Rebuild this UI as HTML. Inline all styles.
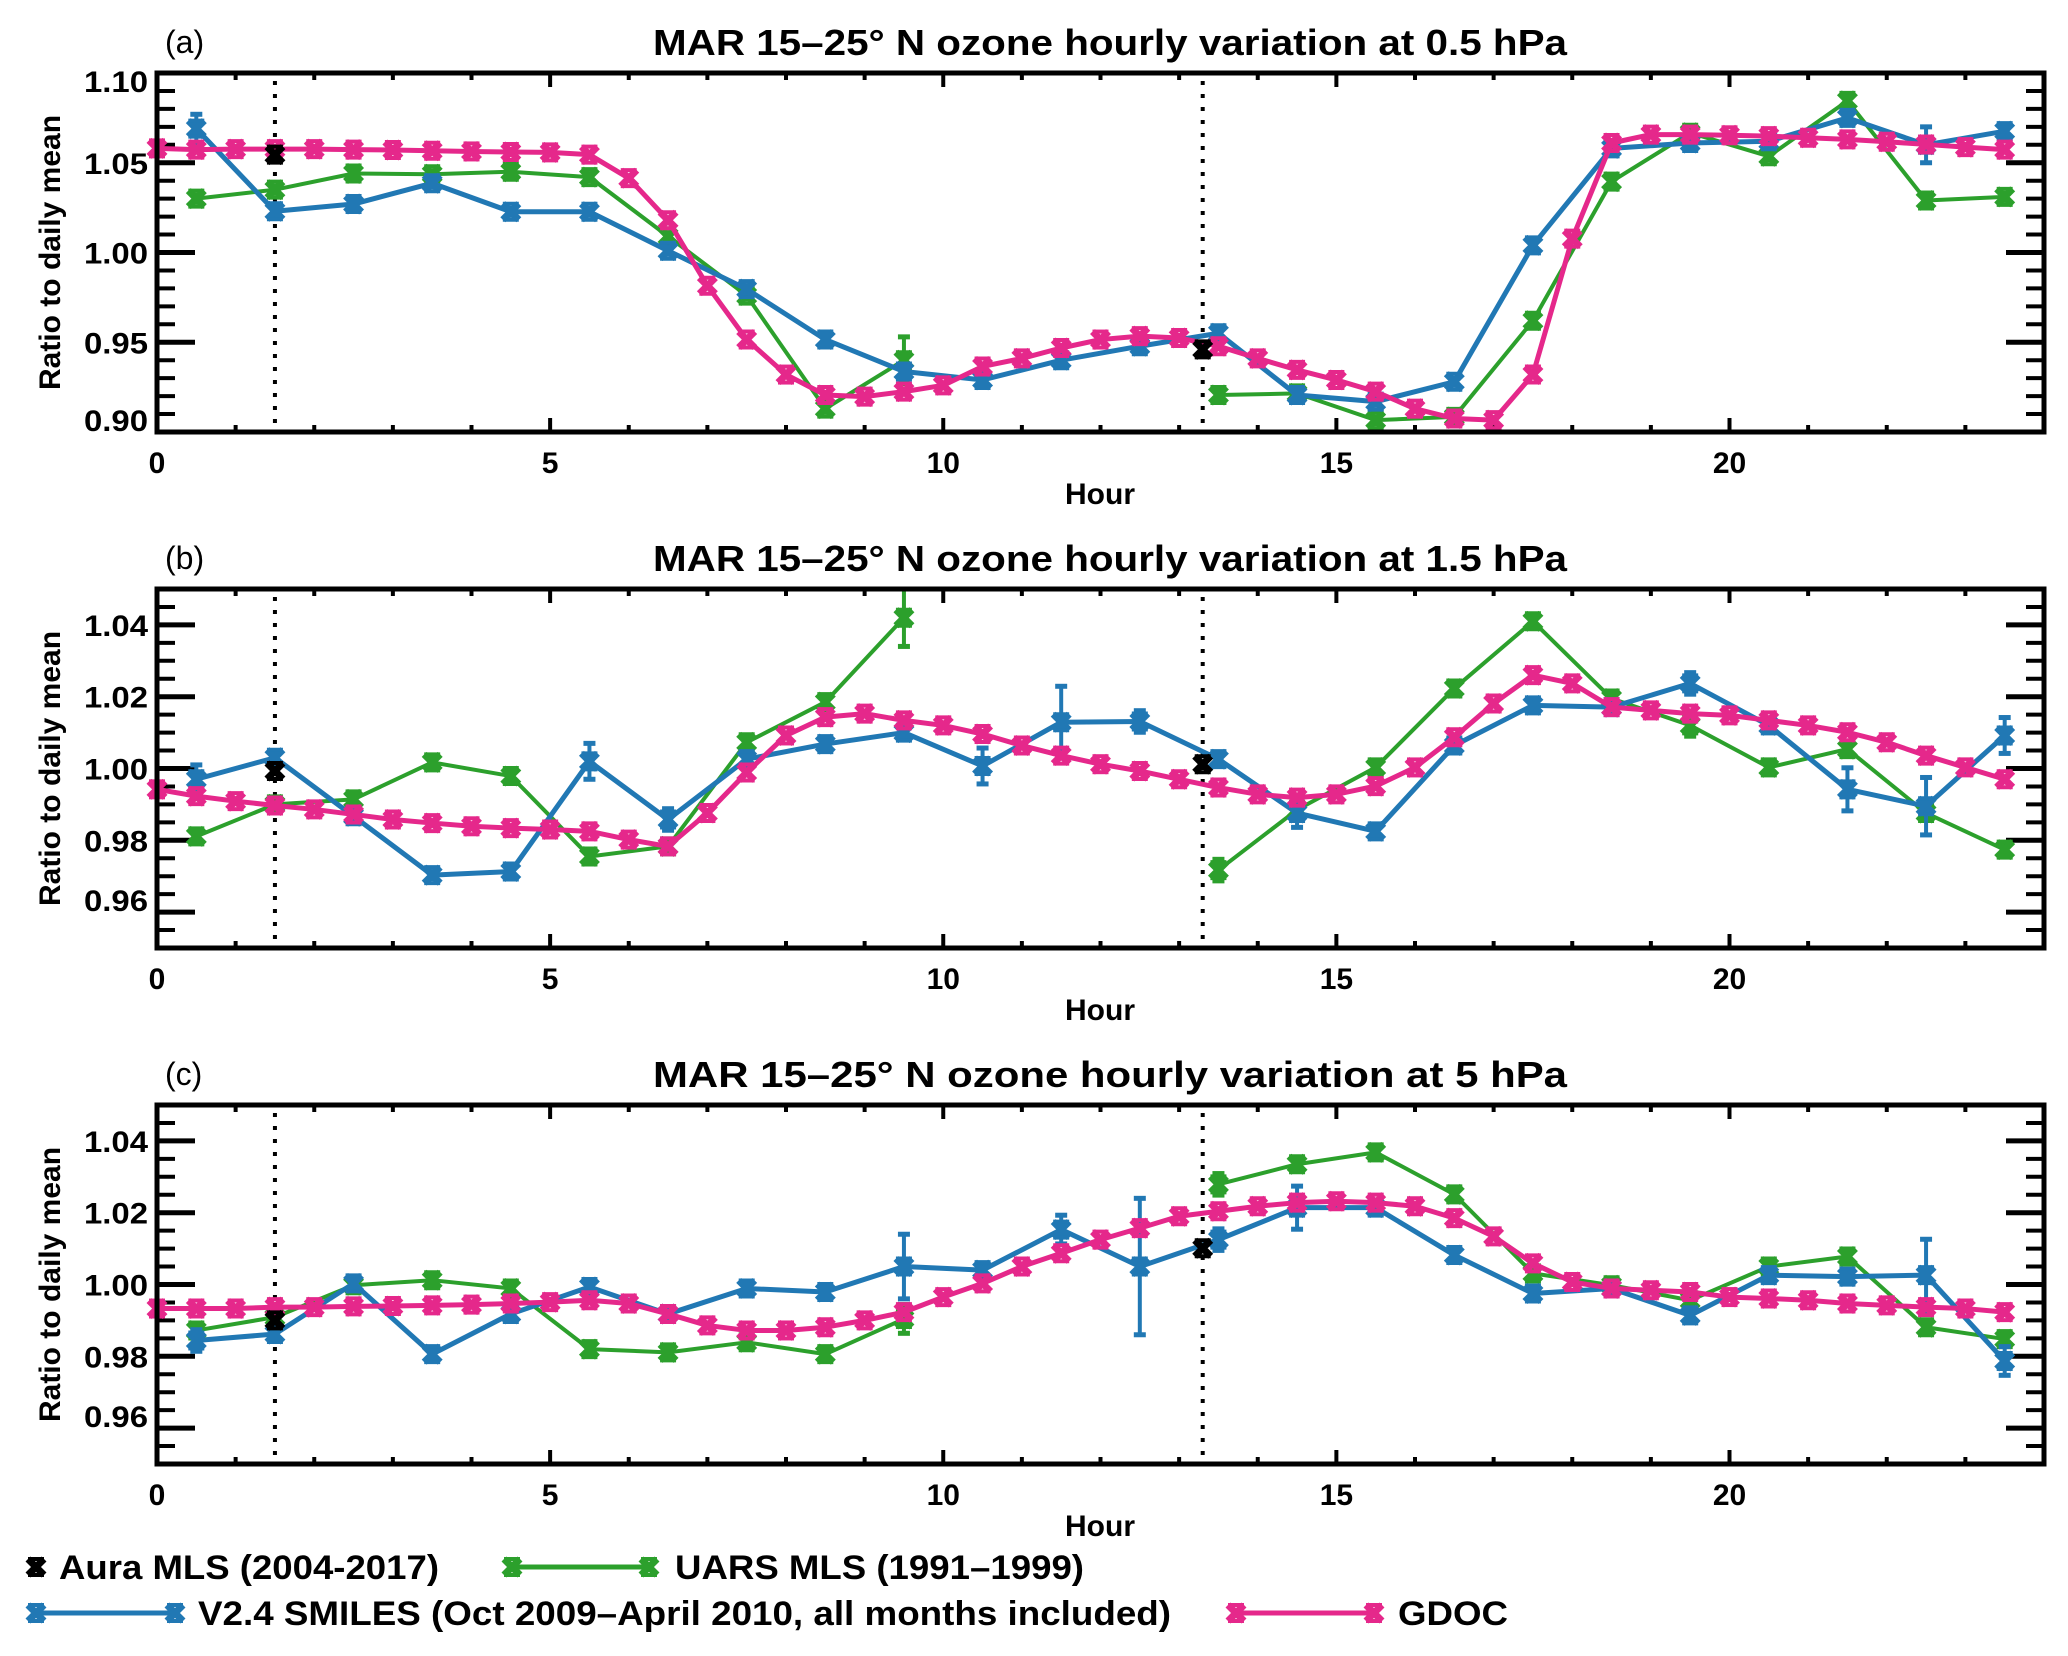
<!DOCTYPE html>
<html><head><meta charset="utf-8"><style>
body{margin:0;background:#fff}
svg{display:block}
text{font-family:"Liberation Sans",Arial,sans-serif;fill:#000}
</style></head><body>
<svg id="chart" xmlns="http://www.w3.org/2000/svg" width="2068" height="1656" viewBox="0 0 2068 1656"></svg>
<script>
// ---- data ----
const hoursHalf = [0.5,1.5,2.5,3.5,4.5,5.5,6.5,7.5,8.5,9.5,10.5,11.5,12.5,13.5,14.5,15.5,16.5,17.5,18.5,19.5,20.5,21.5,22.5,23.5];
const hoursGdoc = [0,0.5,1,1.5,2,2.5,3,3.5,4,4.5,5,5.5,6,6.5,7,7.5,8,8.5,9,9.5,10,10.5,11,11.5,12,12.5,13,13.5,14,14.5,15,15.5,16,16.5,17,17.5,18,18.5,19,19.5,20,20.5,21,21.5,22,22.5,23,23.5];
const auraHours = [1.5,13.3];
const panelTitles = ["MAR 15–25° N ozone hourly variation at 0.5 hPa","MAR 15–25° N ozone hourly variation at 1.5 hPa","MAR 15–25° N ozone hourly variation at 5 hPa"];
const panelLetters = ["(a)","(b)","(c)"];
const xTicks = [0,5,10,15,20];
const yTicksA = ["0.90","0.95","1.00","1.05","1.10"];
const yTicksB = ["0.96","0.98","1.00","1.02","1.04"];
const yTicksC = ["0.96","0.98","1.00","1.02","1.04"];

const smilesA = [1.069,1.023,1.027,1.0386,1.0227,1.0227,1.001,0.9796,0.9515,0.9337,0.929,0.940,0.9478,0.955,0.9206,0.9169,0.928,1.004,1.058,1.061,1.062,1.075,1.060,1.0676];
const smilesErrA = [0.008,0.003,0.002,0.002,0.002,0.002,0.002,0.002,0.002,0.004,0.003,0.003,0.003,0.004,0.003,0.002,0.002,0.003,0.002,0.002,0.002,0.003,0.010,0.003];
const uarsA = [1.030,1.035,1.044,1.0436,1.045,1.042,1.009,0.976,0.913,0.940,null,null,null,0.9206,0.9215,0.9066,0.9084,0.962,1.0395,1.0667,1.0536,1.0845,1.029,1.031];
const uarsErrA = [0.002,0.002,0.002,0.002,0.003,0.002,0.002,0.002,0.002,0.013,0,0,0,0.003,0.002,0.002,0.002,0.004,0.004,0.002,0.002,0.003,0.002,0.002];
const gdocA = [1.058,1.0573,1.0576,1.0576,1.0576,1.0573,1.0571,1.0567,1.0563,1.056,1.0558,1.0545,1.0414,1.018,0.9815,0.9515,0.932,0.9206,0.9197,0.9225,0.926,0.9365,0.941,0.9468,0.9515,0.9534,0.9524,0.9478,0.941,0.9346,0.929,0.9225,0.913,0.9075,0.9066,0.932,1.0077,1.061,1.0657,1.0657,1.0653,1.0648,1.0639,1.063,1.0617,1.0602,1.0587,1.0573];
const auraA = [1.0545,0.946];

const smilesB = [0.997,1.003,0.9867,0.9703,0.9713,1.002,0.9858,1.0026,1.0068,1.010,1.0007,1.0129,1.0131,1.0026,0.9876,0.9825,1.0064,1.0176,1.0171,1.0237,1.012,0.9942,0.9895,1.0092];
const smilesErrB = [0.004,0.002,0.002,0.001,0.001,0.005,0.003,0.002,0.002,0.002,0.005,0.010,0.003,0.002,0.004,0.002,0.002,0.002,0.002,0.003,0.002,0.006,0.008,0.005];
const uarsB = [0.9811,0.990,0.9914,1.0017,0.9979,0.9755,0.9783,1.0073,1.0185,1.042,null,null,null,0.9717,0.9885,1.0003,1.0223,1.041,1.0195,1.012,1.0003,1.0054,0.9876,0.9774];
const uarsErrB = [0.002,0.002,0.002,0.002,0.002,0.002,0.002,0.002,0.002,0.008,0,0,0,0.003,0.002,0.002,0.002,0.002,0.002,0.003,0.002,0.002,0.002,0.002];
const gdocB = [0.9942,0.9923,0.9909,0.9897,0.9886,0.9872,0.9858,0.9848,0.9839,0.9834,0.983,0.9825,0.9802,0.9783,0.9876,0.9989,1.0092,1.0143,1.0153,1.0134,1.012,1.0096,1.0064,1.0036,1.0012,0.9993,0.997,0.9947,0.9928,0.9919,0.9928,0.9951,1.0003,1.0087,1.0181,1.026,1.0237,1.0171,1.0162,1.0153,1.0148,1.0134,1.012,1.0101,1.0073,1.0036,1.0003,0.997];
const auraB = [0.9993,1.0012];

const smilesC = [0.9844,0.9862,1.0003,0.9806,0.9918,0.9993,0.9918,0.9989,0.9979,1.005,1.004,1.0153,1.005,1.0125,1.0214,1.0214,1.0082,0.9975,0.9989,0.9914,1.0026,1.0022,1.0026,0.9787];
const smilesErrC = [0.003,0.002,0.002,0.002,0.002,0.002,0.002,0.001,0.002,0.009,0.002,0.004,0.019,0.003,0.006,0.002,0.002,0.002,0.002,0.002,0.002,0.002,0.010,0.004];
const uarsC = [0.9872,0.9909,0.9998,1.0012,0.9989,0.982,0.9811,0.9839,0.9806,0.9904,null,null,null,1.0279,1.0335,1.0368,1.0251,1.0031,0.9998,0.9956,1.005,1.0078,0.9881,0.9848];
const uarsErrC = [0.002,0.002,0.002,0.002,0.002,0.002,0.002,0.002,0.002,0.004,0,0,0,0.003,0.002,0.002,0.002,0.002,0.002,0.002,0.002,0.002,0.002,0.002];
const gdocC = [0.9933,0.9933,0.9933,0.9937,0.9937,0.9939,0.994,0.9942,0.9944,0.9947,0.9951,0.9956,0.9947,0.9918,0.9886,0.9872,0.9872,0.9881,0.990,0.9923,0.9965,1.0003,1.005,1.0087,1.0125,1.0157,1.019,1.0204,1.0218,1.0228,1.0232,1.0228,1.0218,1.0185,1.0134,1.0059,1.0007,0.9989,0.9984,0.9979,0.9965,0.9961,0.9956,0.9947,0.9942,0.9937,0.9933,0.9923];
const auraC = [0.990,1.0101];

const BLUE="#2178b4", GREEN="#2ca02c", PINK="#e5288b";
const NS="http://www.w3.org/2000/svg";
const svg=document.getElementById('chart');
function mk(tag,attrs,parent){const e=document.createElementNS(NS,tag);for(const k in attrs)e.setAttribute(k,attrs[k]);(parent||svg).appendChild(e);return e;}

const PL=157, PR=2044, PH=359;
const panelTops=[73,589,1105];
const yRanges=[[0.90,1.10],[0.95,1.05],[0.95,1.05]];
const yMinor=[0.01,0.005,0.005];
const yMajorVals=[[0.90,0.95,1.00,1.05,1.10],[0.96,0.98,1.00,1.02,1.04],[0.96,0.98,1.00,1.02,1.04]];
const yLabelSets=[yTicksA,yTicksB,yTicksC];
const panelData=[
 {s:smilesA,se:smilesErrA,u:uarsA,ue:uarsErrA,g:gdocA,a:auraA},
 {s:smilesB,se:smilesErrB,u:uarsB,ue:uarsErrB,g:gdocB,a:auraB},
 {s:smilesC,se:smilesErrC,u:uarsC,ue:uarsErrC,g:gdocC,a:auraC}];

function xScale(h){return PL+h*(PR-PL)/24;}

function marker(g,x,y,col,name){
  const m=mk('g',{},g);
  
  
  const s=8;
  mk('line',{x1:x-s,y1:y-s,x2:x+s,y2:y+s,stroke:col,'stroke-width':7},m);
  mk('line',{x1:x-s,y1:y+s,x2:x+s,y2:y-s,stroke:col,'stroke-width':7},m);
  mk('line',{x1:x-s,y1:y-s,x2:x+s,y2:y-s,stroke:col,'stroke-width':4},m);
  mk('line',{x1:x-s,y1:y+s,x2:x+s,y2:y+s,stroke:col,'stroke-width':4},m);
  return m;
}

function drawSeries(g,hours,vals,errs,col,yS,name,lw){
  const sg=mk('g',{},g);
  
  
  let seg=[];
  const segs=[];
  hours.forEach((h,i)=>{const v=vals[i]; if(v===null){if(seg.length)segs.push(seg);seg=[];} else seg.push([xScale(h),yS(v)]);});
  if(seg.length)segs.push(seg);
  segs.forEach(sp=>{const p=mk('polyline',{points:sp.map(q=>q.join(',')).join(' '),fill:'none',stroke:col,'stroke-width':lw,'stroke-linejoin':'round'},sg);
    
    });
  hours.forEach((h,i)=>{const v=vals[i]; if(v===null)return;
    const x=xScale(h), y=yS(v);
    if(errs && errs[i]>0){const y1=yS(v+errs[i]),y2=yS(v-errs[i]);
      const eb=mk('g',{},sg);
      
      
      mk('line',{x1:x,y1:y1,x2:x,y2:y2,stroke:col,'stroke-width':4},eb);
      mk('line',{x1:x-6,y1:y1,x2:x+6,y2:y1,stroke:col,'stroke-width':5},eb);
      mk('line',{x1:x-6,y1:y2,x2:x+6,y2:y2,stroke:col,'stroke-width':5},eb);}
    marker(sg,x,y,col,name+'-point');
  });
}

panelTops.forEach((top,pi)=>{
  const g=mk('g',{});
  
  
  const [y0,y1]=yRanges[pi];
  const bot=top+PH;
  const yS=v=>bot-(v-y0)/(y1-y0)*PH;
  const t=mk('text',{x:1110,y:top-18,'text-anchor':'middle','font-size':36,'font-weight':'bold',textLength:914,lengthAdjust:'spacingAndGlyphs'},g);
  t.textContent=panelTitles[pi];
  
  
  const l=mk('text',{x:165,y:top-20,'font-size':32},g);
  l.textContent=panelLetters[pi];
  
  
  auraHours.forEach(h=>{const d=mk('line',{x1:xScale(h),y1:top+8,x2:xScale(h),y2:bot-4,stroke:'#000','stroke-width':4,'stroke-dasharray':'4,9'},g);
    
    });
  for(let v=y0;v<=y1+1e-9;v+=yMinor[pi]){const y=yS(v);
    mk('line',{x1:PL,y1:y,x2:PL+18,y2:y,stroke:'#000','stroke-width':4},g);
    mk('line',{x1:PR,y1:y,x2:PR-18,y2:y,stroke:'#000','stroke-width':4},g);}
  yMajorVals[pi].forEach((v,i)=>{const y=yS(v);
    mk('line',{x1:PL,y1:y,x2:PL+38,y2:y,stroke:'#000','stroke-width':5},g);
    mk('line',{x1:PR,y1:y,x2:PR-38,y2:y,stroke:'#000','stroke-width':5},g);
    let ly=y+11; if(i===0) ly=y-1; if(pi===0&&i===yMajorVals[pi].length-1) ly=y+19;
    const tl=mk('text',{x:148,y:ly,'text-anchor':'end','font-size':30,'font-weight':'bold',textLength:64,lengthAdjust:'spacingAndGlyphs'},g);
    tl.textContent=yLabelSets[pi][i];
    
    });
  for(let h=1;h<24;h++){const x=xScale(h);const major=h%5===0;const len=major?14:7;
    mk('line',{x1:x,y1:bot,x2:x,y2:bot-len,stroke:'#000','stroke-width':4},g);
    mk('line',{x1:x,y1:top,x2:x,y2:top+len,stroke:'#000','stroke-width':4},g);}
  xTicks.forEach(h=>{const tl=mk('text',{x:xScale(h),y:bot+41,'text-anchor':'middle','font-size':30,'font-weight':'bold'},g);
    tl.textContent=String(h);
    
    });
  const xt=mk('text',{x:1100,y:bot+72,'text-anchor':'middle','font-size':30,'font-weight':'bold'},g);
  xt.textContent='Hour';
  
  
  const yt=mk('text',{x:0,y:0,'text-anchor':'middle','font-size':30,'font-weight':'bold',transform:`translate(60,${top+PH/2}) rotate(-90)`},g);
  yt.textContent='Ratio to daily mean';
  
  
  const D=panelData[pi];
  drawSeries(g,hoursHalf,D.u,D.ue,GREEN,yS,'uars-mls-series',4);
  drawSeries(g,hoursHalf,D.s,D.se,BLUE,yS,'smiles-series',5);
  drawSeries(g,hoursGdoc,D.g,null,PINK,yS,'gdoc-series',5);
  auraHours.forEach((h,i)=>marker(g,xScale(h),yS(D.a[i]),'#000','aura-mls-point'));
  const fr=mk('rect',{x:PL,y:top,width:PR-PL,height:PH,fill:'none',stroke:'#000','stroke-width':5},g);
  
  
});

const lg=mk('g',{});


function legendEntry(x1,x2,y,col,label,tx,tw,name,line){
  const e=mk('g',{},lg);
  
  
  if(line){mk('line',{x1:x1,y1:y,x2:x2,y2:y,stroke:col,'stroke-width':5},e); marker(e,x1,y,col,'legend-marker');}
  marker(e,x2,y,col,'legend-marker');
  const t=mk('text',{x:tx,y:y+12,'font-size':34,'font-weight':'bold',textLength:tw,lengthAdjust:'spacingAndGlyphs'},e);
  t.textContent=label;
}
legendEntry(36,36,1567,'#000','Aura MLS (2004-2017)',59,380,'legend-entry-aura',false);
legendEntry(512,649,1567,GREEN,'UARS MLS (1991–1999)',675,409,'legend-entry-uars',true);
legendEntry(36,175,1613,BLUE,'V2.4 SMILES (Oct 2009–April 2010, all months included)',198,973,'legend-entry-smiles',true);
legendEntry(1236,1374,1613,PINK,'GDOC',1398,110,'legend-entry-gdoc',true);
</script>
</body></html>
